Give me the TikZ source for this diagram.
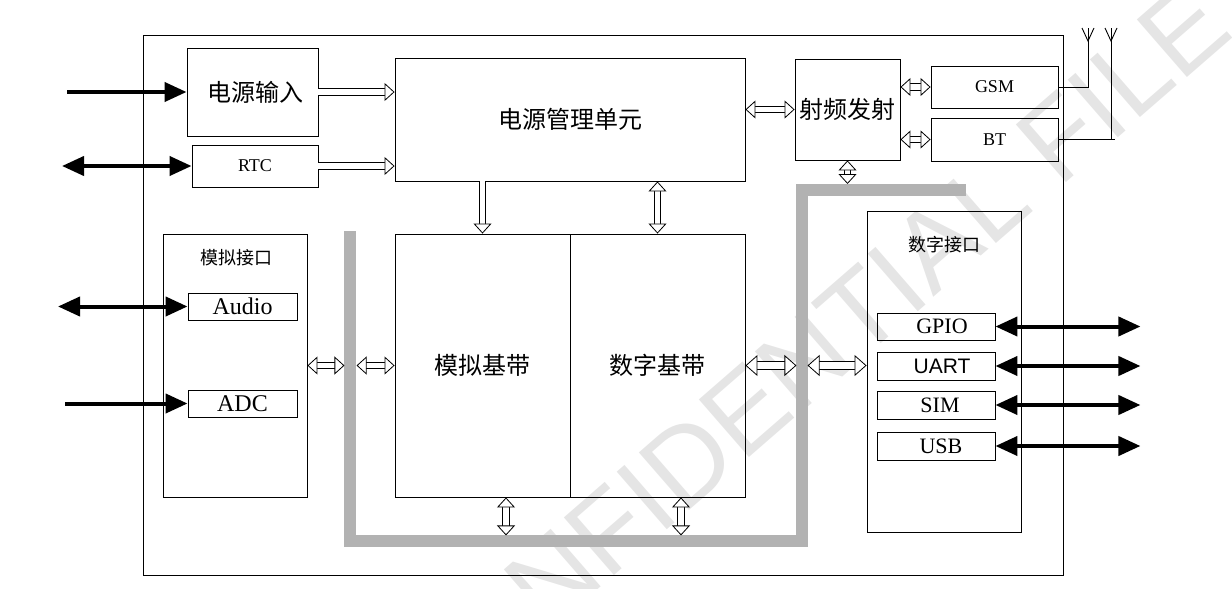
\documentclass[tikz,border=0pt]{standalone}
\usepackage{fontspec}
\setmainfont{Liberation Serif}
\newfontfamily\cjk{Noto Sans CJK SC}
\newfontfamily\arialfont{Liberation Sans}
\usetikzlibrary{arrows.meta}

\tikzset{
  box/.style={draw, line width=0.9pt, inner sep=0pt},
  cn/.style={font=\cjk\fontsize{24}{24}\selectfont},
  cnsmall/.style={font=\cjk\fontsize{18}{18}\selectfont},
  en/.style={font=\fontsize{18}{18}\selectfont},
  enbig/.style={font=\fontsize{22}{22}\selectfont},
  htip/.tip={Triangle[length=10pt,width=18pt,fill=white,line width=0.8pt]},
  htipbig/.tip={Triangle[length=12pt,width=21pt,fill=white,line width=0.8pt]},
  hollow/.style={line width=0.8pt, double=white, double distance=5.5pt, -htip},
  hollowboth/.style={line width=0.8pt, double=white, double distance=5.5pt, htip-htip},
  hollowbig/.style={line width=0.8pt, double=white, double distance=6.5pt, htipbig-htipbig},
  bold/.style={line width=4pt, -{Triangle[length=22pt,width=19pt]}},
  boldboth/.style={line width=4pt, {Triangle[length=22pt,width=19pt]}-{Triangle[length=22pt,width=19pt]}},
  bus/.style={line width=12pt, draw=gray!60},
  wire/.style={line width=0.9pt},
}

\begin{document}
\begin{tikzpicture}[x=1pt,y=-1pt]
  \useasboundingbox (0,0) rectangle (1232,589);
  % watermark
  \begin{scope}
    \clip (0,0) rectangle (1232,589);
    \node[rotate=41, text=gray!20, font=\arialfont\fontsize{111}{111}\selectfont] (mark) at (804,360) {CONFIDENTIAL FILE};
  \end{scope}

  \node[box, minimum width=920pt, minimum height=540pt] (frame) at (603,305) {};

  % power part
  \node[box, cn, minimum width=131pt, minimum height=88pt] (pwrin) at (252.5,92) {\hspace{6pt}电源输入};
  \node[box, en, minimum width=126pt, minimum height=42pt] (rtc) at (255,166) {RTC};
  \node[box, cn, minimum width=350pt, minimum height=123pt] (pmu) at (570,119.5) {电源管理单元};

  % radio part
  \node[box, cn, minimum width=105pt, minimum height=101pt] (rf) at (847.5,109.5) {射频发射};
  \node[box, en, minimum width=127pt, minimum height=42pt] (gsm) at (994.5,87) {GSM};
  \node[box, en, minimum width=127pt, minimum height=43pt] (bt) at (994.5,139.5) {BT};

  % analog interface
  \node[box, minimum width=144pt, minimum height=263pt] (aif) at (235,365.5) {};
  \node[cnsmall] (aiftitle) at (236,258) {模拟接口};
  \node[box, font=\fontsize{24}{24}\selectfont, minimum width=109pt, minimum height=27pt] (audio) at (242.5,306.5) {Audio};
  \node[box, font=\fontsize{24}{24}\selectfont, minimum width=109pt, minimum height=27pt] (adc) at (242.5,403.5) {ADC};

  % baseband
  \node[box, cn, minimum width=175pt, minimum height=263pt] (abb) at (482.5,365.5) {模拟基带};
  \node[box, cn, minimum width=175pt, minimum height=263pt] (dbb) at (657.5,365.5) {数字基带};

  % digital interface
  \node[box, minimum width=154pt, minimum height=321pt] (dif) at (944,371.5) {};
  \node[cnsmall] (diftitle) at (944,245) {数字接口};
  \node[box, enbig, minimum width=118pt, minimum height=27pt] (gpio) at (936,326.5) {\hspace{12pt}GPIO};
  \node[box, font=\arialfont\fontsize{21}{21}\selectfont, minimum width=118pt, minimum height=28pt] (uart) at (936,366) {\hspace{12pt}UART};
  \node[box, enbig, minimum width=118pt, minimum height=28pt] (sim) at (936,405) {\hspace{8pt}SIM};
  \node[box, enbig, minimum width=118pt, minimum height=28pt] (usb) at (936,446) {\hspace{10pt}USB};

  % bus
  \coordinate (b1) at (350,231);
  \coordinate (b2) at (350,541);
  \coordinate (b3) at (802,541);
  \coordinate (b4) at (802,190);
  \coordinate (b5) at (966,190);
  \draw[bus] (b1) -- (b2) -- (b3) -- (b4) -- (b5);

  % antennas
  \coordinate (ant1) at (1088,41);
  \coordinate (ant2) at (1111,41);
  \draw[wire] (gsm.east) -| (ant1) -- ++(0,-13);
  \draw[wire] (1082,28) -- (ant1) -- (1094,28);
  \draw[wire] (bt.east) -- ++(57,0) coordinate (btend);
  \draw[wire] (btend -| ant2) -- (ant2) -- ++(0,-13);
  \draw[wire] (1105,28) -- (ant2) -- (1117,28);

  % outside signals
  \coordinate (pwrsrc) at (67,92);
  \coordinate (rtcsrc) at (62,166);
  \coordinate (audiosrc) at (58,306.5);
  \coordinate (adcsrc) at (65,403.5);
  \draw[bold] (pwrsrc) -- (pwrin);
  \draw[boldboth] (rtcsrc) -- (rtc);
  \draw[boldboth] (audiosrc) -- (audio);
  \draw[bold] (adcsrc) -- (adc);
  \foreach \n in {gpio,uart,sim,usb}
    \draw[boldboth] (\n.east) -- ++(145,0);

  % hollow links
  \draw[hollow] (pwrin.east) -- (pwrin.east -| pmu.west);
  \draw[hollow] (rtc.east) -- (rtc.east -| pmu.west);
  \draw[hollowboth] (rf.west -| pmu.east) -- (rf.west);
  \draw[hollowboth] (rf.east |- gsm) -- (gsm.west);
  \draw[hollowboth] (rf.east |- bt) -- (bt.west);
  \draw[hollowboth] (rf.south) -- ([yshift=6pt]rf.south |- b4);
  \draw[hollow] (pmu.south -| abb) -- (abb.north);
  \draw[hollowboth] (pmu.south -| dbb) -- (dbb.north);
  \draw[hollowboth] ([xshift=23.5pt]abb.south) -- ++(0,38);
  \draw[hollowboth] ([xshift=23.5pt]dbb.south) -- ++(0,38);
  \draw[hollowboth] (aif.east) -- ++(37,0);
  \draw[hollowboth] (abb.west) -- ++(-38,0);
  \draw[hollowbig] (dbb.east) -- ++(51,0);
  \draw[hollowbig] (dif.west |- dbb) -- ++(-59,0);
\end{tikzpicture}
\end{document}
